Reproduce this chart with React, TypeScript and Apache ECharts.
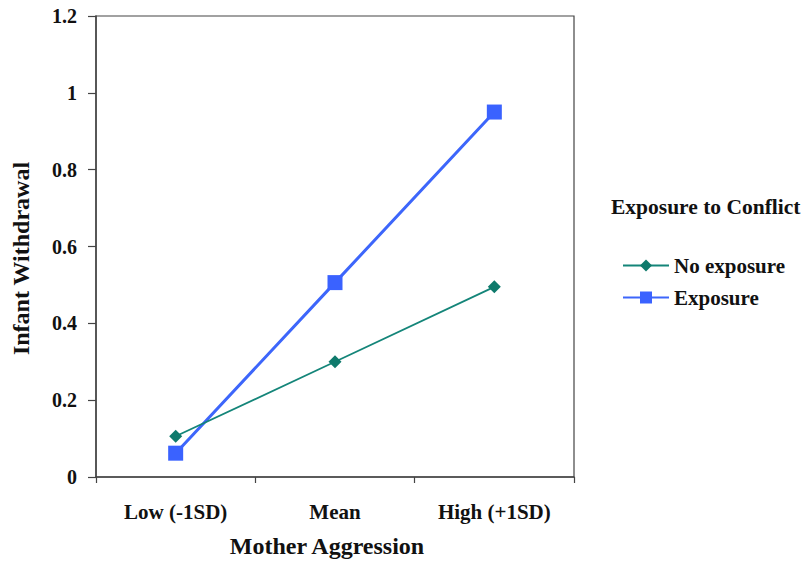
import React, { useEffect, useRef } from "react";
import * as echarts from "echarts";

const categories = ["Low (-1SD)", "Mean", "High (+1SD)"];
const noExposure = [0.106, 0.3, 0.495];
const exposure = [0.062, 0.506, 0.95];
const seriesNames = ["No exposure", "Exposure"];
const legendTitle = "Exposure to Conflict";

const FONT = "'Liberation Serif', 'Times New Roman', serif";

export default function App() {
  const ref = useRef<HTMLDivElement>(null);
  useEffect(() => {
    if (!ref.current) return;
    const chart = echarts.init(ref.current, null, { renderer: "svg" });
    chart.setOption({
      animation: false,
      backgroundColor: "#ffffff",
      textStyle: { fontFamily: FONT },
      title: {
        text: legendTitle,
        left: 611,
        top: 196,
        padding: 0,
        textStyle: { fontFamily: FONT, fontWeight: "bold", fontSize: 21.5, color: "#111" },
      },
      legend: {
        orient: "vertical",
        left: 617,
        top: 250,
        itemWidth: 46,
        itemHeight: 15,
        itemGap: 11,
        textStyle: { fontFamily: FONT, fontWeight: "bold", fontSize: 21, color: "#111" },
        data: seriesNames,
      },
      grid: {
        left: 96,
        right: 234,
        top: 16,
        bottom: 82,
        show: true,
        borderColor: "#444",
        borderWidth: 1.2,
      },
      xAxis: {
        type: "category",
        data: categories,
        boundaryGap: true,
        name: "Mother Aggression",
        nameLocation: "middle",
        nameGap: 57,
        nameTextStyle: {
          fontFamily: FONT,
          fontWeight: "bold",
          fontSize: 24,
          color: "#111",
          padding: [0, 16, 0, 0],
        },
        axisLine: { lineStyle: { color: "#444", width: 1.5 } },
        axisTick: { show: true, length: 6, inside: false, lineStyle: { color: "#444", width: 1.2 } },
        axisLabel: { fontFamily: FONT, fontWeight: "bold", fontSize: 21, color: "#111", margin: 24 },
        splitLine: { show: false },
      },
      yAxis: {
        type: "value",
        min: 0,
        max: 1.2,
        interval: 0.2,
        name: "Infant Withdrawal",
        nameLocation: "middle",
        nameGap: 63,
        nameTextStyle: {
          fontFamily: FONT,
          fontWeight: "bold",
          fontSize: 24,
          color: "#111",
          padding: [0, 24, 0, 0],
        },
        axisLine: { show: true, lineStyle: { color: "#444", width: 1.5 } },
        axisTick: { show: true, length: 8, lineStyle: { color: "#444", width: 1.2 } },
        axisLabel: { fontFamily: FONT, fontWeight: "bold", fontSize: 20, color: "#111", margin: 19 },
        splitLine: { show: false },
      },
      series: [
        {
          name: seriesNames[0],
          type: "line",
          data: noExposure,
          symbol: "diamond",
          symbolSize: 13,
          lineStyle: { color: "#148579", width: 1.8 },
          itemStyle: { color: "#0f7a6c" },
          z: 3,
        },
        {
          name: seriesNames[1],
          type: "line",
          data: exposure,
          symbol: "rect",
          symbolSize: 15,
          lineStyle: { color: "#3d66fb", width: 3 },
          itemStyle: { color: "#3a62ff" },
          z: 2,
        },
      ],
    });
    return () => chart.dispose();
  }, []);
  return (
    <div
      ref={ref}
      style={{ position: "fixed", left: 0, top: 0, width: 808, height: 563 }}
    />
  );
}
